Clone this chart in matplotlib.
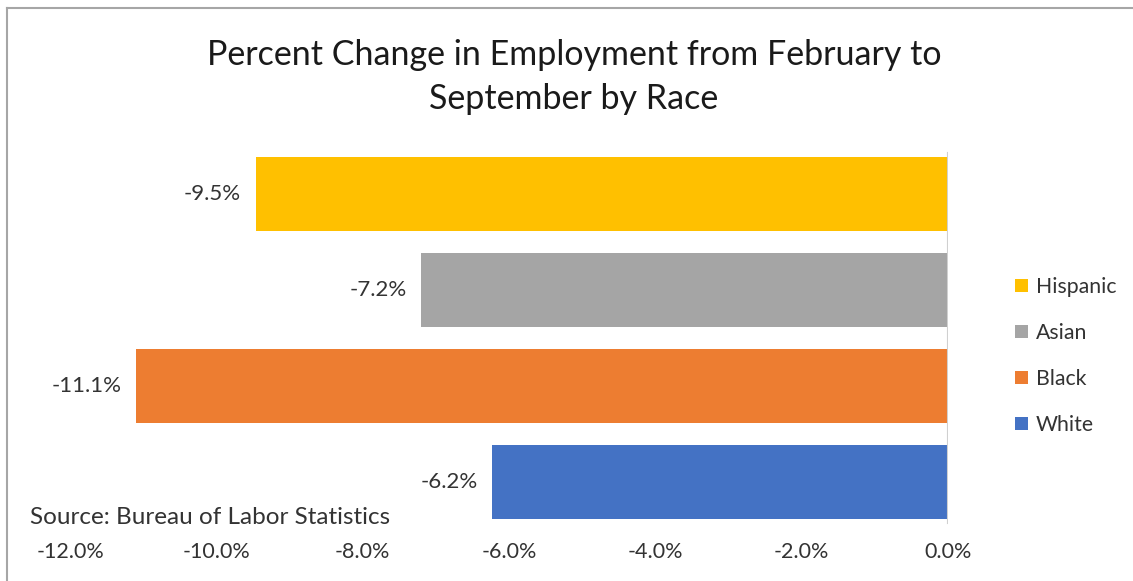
import matplotlib
matplotlib.use("Agg")
import matplotlib.pyplot as plt
from matplotlib.lines import Line2D

categories = ["Hispanic", "Asian", "Black", "White"]
values = [-9.46, -7.20, -11.10, -6.23]
colors = ["#FFC000", "#A5A5A5", "#ED7D31", "#4472C4"]
xticks = [-12, -10, -8, -6, -4, -2, 0]
title = "Percent Change in Employment from February to\nSeptember by Race"
source = "Source: Bureau of Labor Statistics"

plt.rcParams["font.family"] = ["Lato", "DejaVu Sans"]
W, H = 1133, 581
fig = plt.figure(figsize=(W / 100, H / 100), dpi=100)
ax = fig.add_axes([70 / W, (H - 530) / H, 878 / W, 384 / H])

text_col = "#333333"
for i, (cat, val, col) in enumerate(zip(categories, values, colors)):
    ax.barh(i, val, height=0.78, color=col, label=cat, zorder=2)
    ax.text(val - 0.2, i, f"{val:.1f}%", ha="right", va="center",
            fontsize=16, color=text_col)

ax.set_xlim(-12, 0)
ax.set_ylim(3.5, -0.5)
ax.axvline(0, ymin=7 / 384, ymax=377 / 384, color="#D0D0D0", lw=1.5, zorder=3)
ax.set_xticks(xticks)
ax.set_xticklabels([f"{t:.1f}%" for t in xticks], fontsize=15.5, color=text_col)
ax.set_yticks([])
ax.tick_params(axis="x", length=0, pad=9)
for s in ax.spines.values():
    s.set_visible(False)

fig.text(574 / W, 1 - 77 / H, title, ha="center", va="center",
         fontsize=24.5, color="#1a1a1a", linespacing=1.45)
fig.text(30 / W, 1 - 517 / H, source, ha="left", va="center",
         fontsize=17.5, color=text_col)

leg = ax.legend(loc="center left", bbox_to_anchor=(996 / W, 1 - 356 / H),
                bbox_transform=fig.transFigure, frameon=False,
                fontsize=15.3, handlelength=0.6, handleheight=0.6,
                handletextpad=0.38, labelspacing=1.22, labelcolor=text_col)

fig.add_artist(Line2D([7 / W, 7 / W], [0, 1 - 8 / H], color="#A6A6A6", lw=1.5))
fig.add_artist(Line2D([7 / W, 1], [1 - 8 / H, 1 - 8 / H], color="#A6A6A6", lw=1.5))

fig.savefig("out.png", dpi=100, facecolor="white")
